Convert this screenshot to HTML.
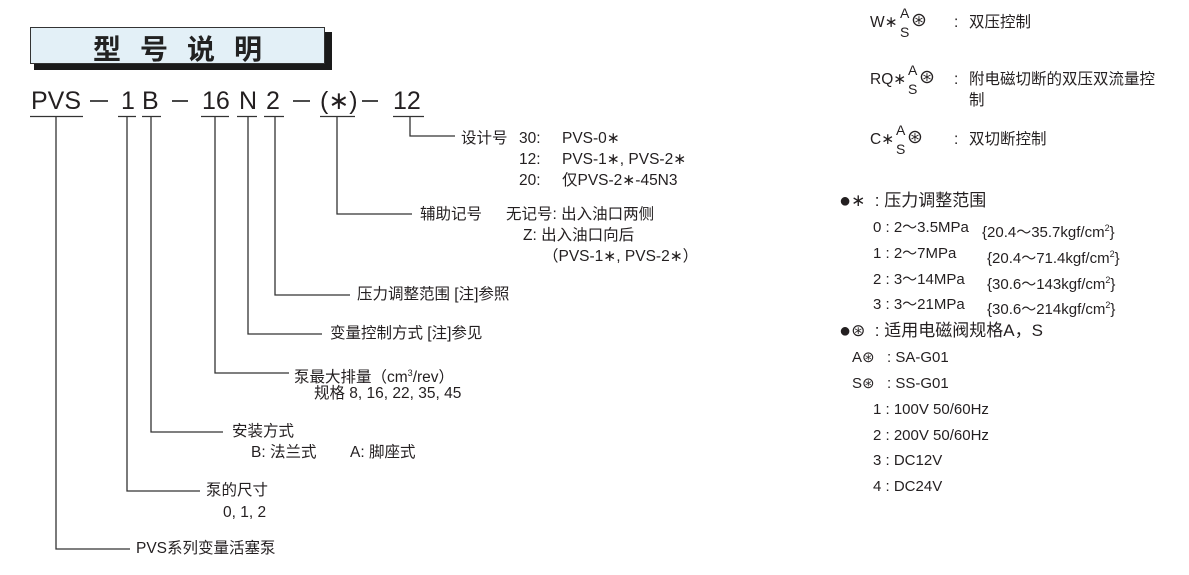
<!DOCTYPE html>
<html><head><meta charset="utf-8"><style>
html,body{margin:0;padding:0;background:#fff;}
body{width:1189px;height:575px;position:relative;overflow:hidden;font-family:"Liberation Sans","Noto Sans CJK SC",sans-serif;color:#231f20;}
.t{position:absolute;white-space:nowrap;font-size:15.5px;line-height:20px;}
.c{position:absolute;font-size:25px;line-height:24px;white-space:nowrap;}
.sup{font-size:9px;vertical-align:6px;}
.r{font-size:15px;}
.b{font-size:20px;vertical-align:-1px;}
.o{font-size:19px;}
</style></head><body>
<div style="position:absolute;left:34px;top:32px;width:298px;height:38px;background:#1a1a1a;"></div>
<div style="position:absolute;left:30px;top:27px;width:293px;height:35px;background:#e3f0f7;border:1.5px solid #333;"></div>
<div style="position:absolute;left:93px;top:31px;font-size:28px;line-height:34px;font-weight:bold;letter-spacing:19px;font-family:'Noto Sans CJK SC',sans-serif;color:#222;">型号说明</div>

<div class="c" style="left:31px;top:89px;">PVS</div>
<div class="c" style="left:121px;top:89px;">1</div>
<div class="c" style="left:142px;top:89px;">B</div>
<div class="c" style="left:202px;top:89px;">16</div>
<div class="c" style="left:239px;top:89px;">N</div>
<div class="c" style="left:266px;top:89px;">2</div>
<div class="c" style="left:320px;top:89px;">(∗)</div>
<div class="c" style="left:393px;top:89px;">12</div>

<svg width="1189" height="575" style="position:absolute;left:0;top:0" stroke="#333" stroke-width="1.3" fill="none">
<g stroke-width="1.8"><line x1="90" y1="101" x2="108" y2="101"/><line x1="172" y1="101" x2="188" y2="101"/><line x1="293" y1="101" x2="310" y2="101"/><line x1="362" y1="101" x2="378" y2="101"/></g>
<line x1="30" y1="116.5" x2="83" y2="116.5"/><line x1="118" y1="116.5" x2="136" y2="116.5"/><line x1="142" y1="116.5" x2="161" y2="116.5"/><line x1="201" y1="116.5" x2="229" y2="116.5"/><line x1="237" y1="116.5" x2="257" y2="116.5"/><line x1="264" y1="116.5" x2="284" y2="116.5"/><line x1="320" y1="116.5" x2="355" y2="116.5"/><line x1="393" y1="116.5" x2="424" y2="116.5"/>
<polyline points="56,117 56,549 130,549"/>
<polyline points="127,117 127,491 200,491"/>
<polyline points="151,117 151,432 223,432"/>
<polyline points="215,117 215,373 289,373"/>
<polyline points="248,117 248,334 322,334"/>
<polyline points="275,117 275,295 350,295"/>
<polyline points="337,117 337,214 412,214"/>
<polyline points="410,117 410,136 455,136"/>
</svg>

<div class="t" style="left:461px;top:129px;">设计号</div>
<div class="t" style="left:519px;top:129px;">30:</div><div class="t" style="left:562px;top:129px;">PVS-0∗</div>
<div class="t" style="left:519px;top:150px;">12:</div><div class="t" style="left:562px;top:150px;">PVS-1∗, PVS-2∗</div>
<div class="t" style="left:519px;top:171px;">20:</div><div class="t" style="left:562px;top:171px;">仅PVS-2∗-45N3</div>
<div class="t" style="left:420px;top:205px;">辅助记号</div>
<div class="t" style="left:506px;top:205px;">无记号: 出入油口两侧</div>
<div class="t" style="left:523px;top:226px;">Z: 出入油口向后</div>
<div class="t" style="left:543px;top:247px;">（PVS-1∗, PVS-2∗）</div>
<div class="t" style="left:357px;top:285px;">压力调整范围 [注]参照</div>
<div class="t" style="left:330px;top:324px;">变量控制方式 [注]参见</div>
<div class="t" style="left:294px;top:363px;">泵最大排量（cm<span class="sup">3</span>/rev）</div>
<div class="t" style="left:314px;top:384px;">规格 8, 16, 22, 35, 45</div>
<div class="t" style="left:232px;top:422px;">安装方式</div>
<div class="t" style="left:251px;top:443px;">B: 法兰式</div>
<div class="t" style="left:350px;top:443px;">A: 脚座式</div>
<div class="t" style="left:206px;top:481px;">泵的尺寸</div>
<div class="t" style="left:223px;top:503px;">0, 1, 2</div>
<div class="t" style="left:136px;top:539px;">PVS系列变量活塞泵</div>

<!-- right column -->
<div class="t" style="left:870px;top:13px;">W∗</div>
<div class="t" style="left:870px;top:70px;">RQ∗</div>
<div class="t" style="left:870px;top:130px;">C∗</div>
<div class="t" style="left:900px;top:3px;font-size:14px;">A</div><div class="t" style="left:900px;top:22px;font-size:14px;">S</div>
<div class="t" style="left:908px;top:60px;font-size:14px;">A</div><div class="t" style="left:908px;top:79px;font-size:14px;">S</div>
<div class="t" style="left:896px;top:120px;font-size:14px;">A</div><div class="t" style="left:896px;top:139px;font-size:14px;">S</div>
<div class="t o" style="left:911px;top:11px;">⊛</div>
<div class="t o" style="left:919px;top:68px;">⊛</div>
<div class="t o" style="left:907px;top:128px;">⊛</div>
<div class="t" style="left:954px;top:13px;">:</div><div class="t" style="left:969px;top:13px;">双压控制</div>
<div class="t" style="left:954px;top:70px;">:</div><div class="t" style="left:969px;top:70px;">附电磁切断的双压双流量控</div>
<div class="t" style="left:969px;top:91px;">制</div>
<div class="t" style="left:954px;top:130px;">:</div><div class="t" style="left:969px;top:130px;">双切断控制</div>

<div class="t" style="left:839px;top:191px;font-size:17px;"><span class="b">●</span>∗ &nbsp;: 压力调整范围</div>
<div class="t r" style="left:873px;top:218px;">0 : 2～3.5MPa</div><div class="t r" style="left:982px;top:218px;">{20.4～35.7kgf/cm<span class="sup">2</span>}</div>
<div class="t r" style="left:873px;top:244px;">1 : 2～7MPa</div><div class="t r" style="left:987px;top:244px;">{20.4～71.4kgf/cm<span class="sup">2</span>}</div>
<div class="t r" style="left:873px;top:270px;">2 : 3～14MPa</div><div class="t r" style="left:987px;top:270px;">{30.6～143kgf/cm<span class="sup">2</span>}</div>
<div class="t r" style="left:873px;top:295px;">3 : 3～21MPa</div><div class="t r" style="left:987px;top:295px;">{30.6～214kgf/cm<span class="sup">2</span>}</div>
<div class="t" style="left:839px;top:321px;font-size:17px;"><span class="b">●</span>⊛ &nbsp;: 适用电磁阀规格A，S</div>
<div class="t r" style="left:852px;top:348px;">A⊛</div><div class="t r" style="left:887px;top:348px;">: SA-G01</div>
<div class="t r" style="left:852px;top:374px;">S⊛</div><div class="t r" style="left:887px;top:374px;">: SS-G01</div>
<div class="t r" style="left:873px;top:400px;">1 : 100V 50/60Hz</div>
<div class="t r" style="left:873px;top:426px;">2 : 200V 50/60Hz</div>
<div class="t r" style="left:873px;top:451px;">3 : DC12V</div>
<div class="t r" style="left:873px;top:477px;">4 : DC24V</div>
</body></html>
